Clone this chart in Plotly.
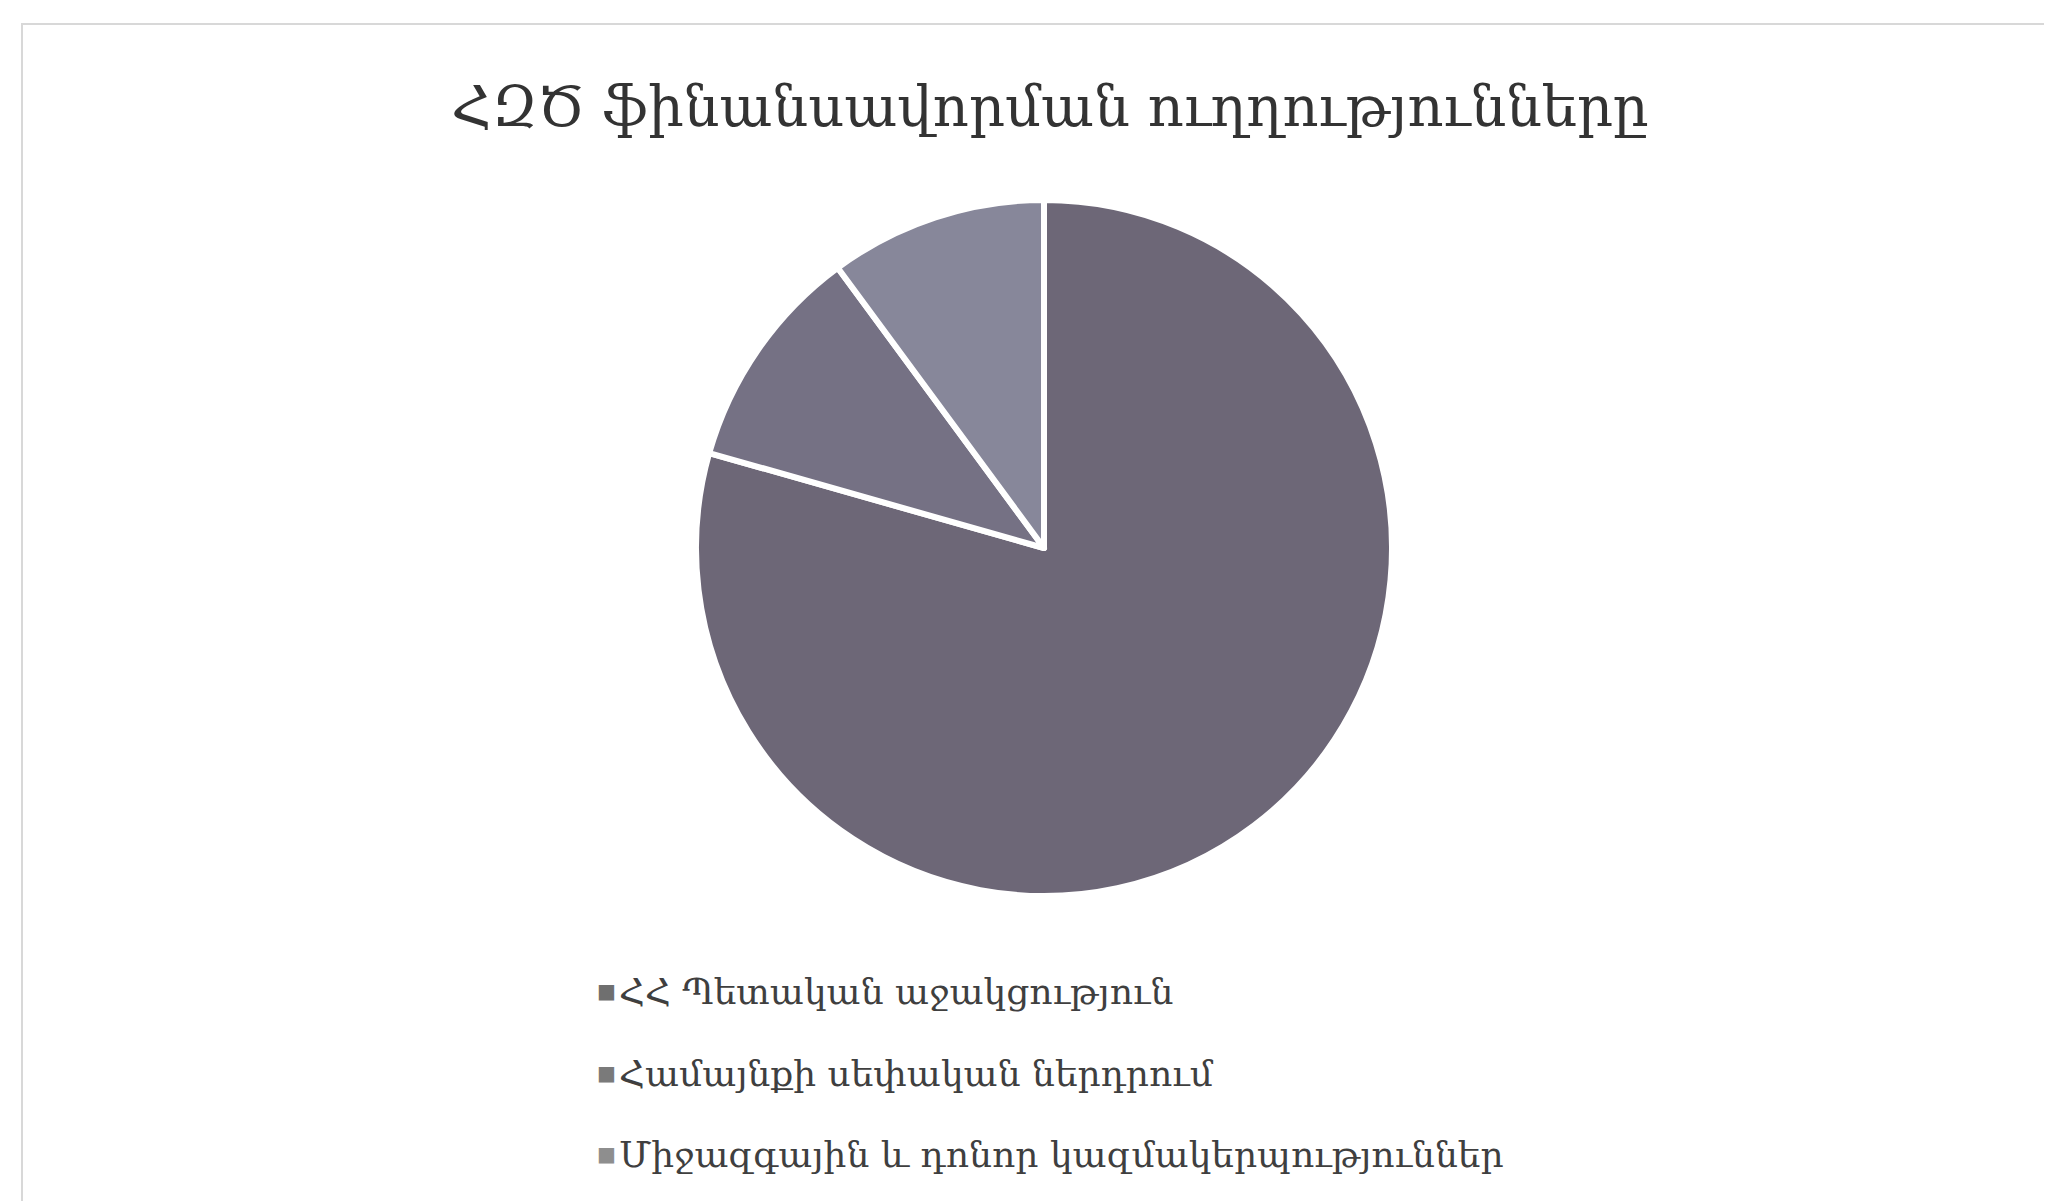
import plotly.graph_objects as go

title = "ՀԶԾ ֆինանսավորման ուղղությունները"
labels = ["ՀՀ Պետական աջակցություն", "Համայնքի սեփական ներդրում", "Միջազգային և դոնոր կազմակերպություններ"]
values = [79.4, 10.5, 10.1]
colors = ["#6d6777", "#757184", "#87879a"]
legend_marker_colors = ["#6f6f6f", "#7a7a7a", "#8e8e8e"]

W, H = 2052, 1201
FONT = "DejaVu Serif"

cx, cy, r = 1036, 540, 348

fig = go.Figure()
fig.add_trace(go.Pie(
    labels=labels,
    values=values,
    sort=False,
    direction="clockwise",
    rotation=0,
    marker=dict(colors=colors, line=dict(color="white", width=6)),
    textinfo="none",
    hoverinfo="label+percent",
    showlegend=False,
    domain=dict(x=[(cx - r) / W, (cx + r) / W], y=[1 - (cy + r) / H, 1 - (cy - r) / H]),
))

# manual legend (vertical, widely spaced)
legend_y = [983, 1065, 1146]
for lab, col, yy in zip(labels, legend_marker_colors, legend_y):
    fig.add_annotation(x=587 / W, y=1 - yy / H, xref="paper", yref="paper",
                       text="■", showarrow=False, xanchor="left", yanchor="middle",
                       font=dict(family=FONT, size=20, color=col))
    fig.add_annotation(x=609 / W, y=1 - yy / H, xref="paper", yref="paper",
                       text=lab, showarrow=False, xanchor="left", yanchor="middle",
                       font=dict(family=FONT, size=36, color="#3f3f3f"))

fig.update_layout(
    width=W, height=H,
    margin=dict(l=0, r=0, t=0, b=0),
    paper_bgcolor="white",
    plot_bgcolor="white",
    title=dict(text=title, x=1042 / W, xanchor="center", y=1 - 98 / H, yanchor="middle",
               font=dict(family=FONT, size=56, color="#333333")),
    shapes=[dict(type="rect", xref="paper", yref="paper",
                 x0=14 / W, x1=2050 / W, y0=0, y1=1 - 16 / H,
                 line=dict(color="#d8d8d8", width=2), fillcolor="rgba(0,0,0,0)")],
)

fig.write_html("out.html")
